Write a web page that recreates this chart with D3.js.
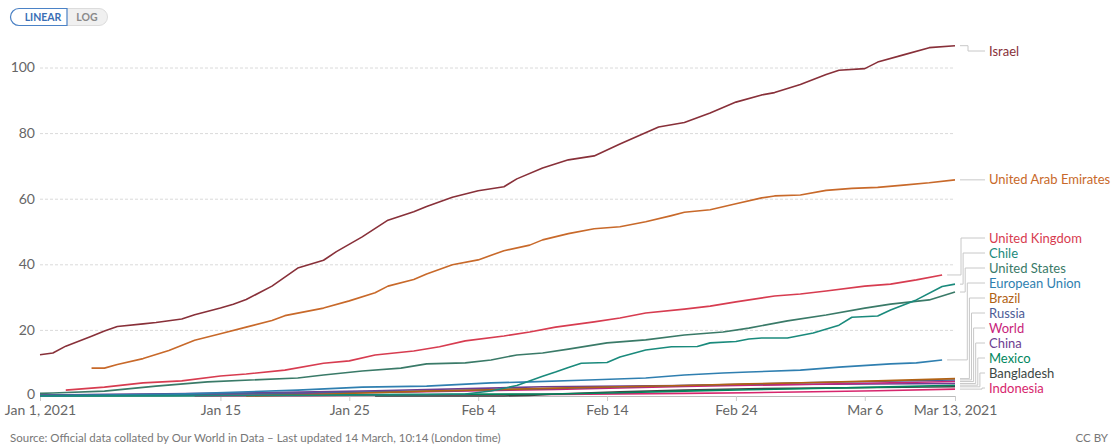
<!DOCTYPE html>
<html>
<head>
<meta charset="utf-8">
<script src="https://cdn.jsdelivr.net/npm/d3@7"></script>
<style>
  body { margin: 0; background: #fff; }
  svg { font-family: Lato, "Open Sans", sans-serif; display: block; }
</style>
</head>
<body>
<div id="chart"></div>
<script>
// data: day offsets from Jan 1, 2021 and doses per 100 people
const israelDays = [0,1,2,4,5,6,8,9,11,12,14,15,16,18,20,22,23,25,27,29,30,32,34,36,37,39,41,43,45,48,50,52,54,56,57,59,61,62,64,65,67,69,71];
const israelVals = [12.6,13.1,15.2,18.2,19.8,21.2,22,22.4,23.5,24.8,26.8,28,29.4,33.5,39,41.4,44,48.5,53.6,56.2,57.8,60.6,62.6,63.8,66.2,69.5,72,73.2,76.8,82,83.4,86.3,89.6,91.8,92.5,95,98,99.3,99.8,101.8,104,106.2,106.8];

const uaeDays = [4,5,6,8,10,12,14,16,18,19,22,24,26,27,29,30,32,34,36,38,39,41,43,45,47,49,50,52,54,56,57,59,61,63,65,67,69,71];
const uaeVals = [8.5,8.5,9.6,11.4,13.9,17,19,21,23,24.5,26.8,29,31.5,33.5,35.5,37.2,40,41.5,44.3,46,47.6,49.5,51,51.6,53.1,55,56,56.8,58.6,60.4,61,61.3,62.7,63.3,63.6,64.3,65,65.9];

const ukDays = [2,5,8,11,14,16,19,22,24,26,29,31,33,36,38,40,43,45,47,50,52,54,57,59,61,64,66,68,70];
const ukVals = [1.8,2.7,4,4.6,6.1,6.7,7.9,10,10.7,12.5,13.7,15,16.8,18.3,19.5,21,22.6,23.8,25.3,26.5,27.4,28.7,30.5,31.1,32,33.5,34.1,35.4,36.9];

const chileDays = [0,10,20,30,33,35,37,39,40,41,42,44,45,47,49,51,52,54,55,56,58,60,62,63,65,66,68,70,71];
const chileVals = [0.05,0.1,0.2,0.4,0.6,1.5,3.2,6,7.3,8.7,10,10.2,11.9,14,15,15.1,16.2,16.6,17.4,17.7,17.7,19.2,21.6,24,24.4,26.2,29.3,33.4,34.1];

const usDays = [0,1,5,9,13,20,22,25,28,30,33,35,37,39,41,44,45,47,50,53,55,58,61,64,66,69,71];
const usVals = [0.8,0.9,1.5,3,4.3,5.5,6.4,7.6,8.5,9.8,10.1,11,12.5,13.1,14.3,16.2,16.5,17.1,18.6,19.5,20.7,22.9,24.7,26.8,28,29.3,31.7];

const euDays = [0,10,20,25,30,35,38,42,47,50,53,55,59,62,66,68,70];
const euVals = [0.05,0.5,1.8,2.7,3,4,4.3,4.8,5.5,6.4,7,7.3,7.9,8.8,9.8,10.1,11];

const brazilDays = [16,20,25,30,35,40,45,50,55,60,65,71];
const brazilVals = [0,0.3,0.9,1.5,1.9,2.4,2.8,3.2,3.7,4.1,4.6,5.3];

const russiaDays = [0,10,20,30,40,50,60,71];
const russiaVals = [0.3,0.5,0.9,1.5,2.3,3.2,4.1,4.9];

const worldDays = [0,10,20,30,40,50,60,71];
const worldVals = [0.15,0.4,0.8,1.3,2,2.9,3.6,4.4];

const chinaDays = [0,8,19,26,39,58,71];
const chinaVals = [0.3,0.63,1.1,1.6,2.8,3.5,3.8];

const mexicoDays = [0,10,20,30,40,45,50,55,60,65,71];
const mexicoVals = [0.02,0.1,0.4,0.55,0.6,1,1.5,1.9,2.3,2.7,3.3];

const bangladeshDays = [26,36,38,40,45,50,55,60,65,71];
const bangladeshVals = [0,0.01,0.2,0.6,1.3,1.8,2.2,2.4,2.6,2.8];

const indonesiaDays = [12,20,30,40,50,55,60,65,71];
const indonesiaVals = [0,0.1,0.3,0.5,0.8,1,1.3,1.6,2.1];

const seriesNames = ["Israel","United Arab Emirates","United Kingdom","Chile","United States","European Union","Brazil","Russia","World","China","Mexico","Bangladesh","Indonesia"];
const seriesDays = [israelDays,uaeDays,ukDays,chileDays,usDays,euDays,brazilDays,russiaDays,worldDays,chinaDays,mexicoDays,bangladeshDays,indonesiaDays];
const seriesVals = [israelVals,uaeVals,ukVals,chileVals,usVals,euVals,brazilVals,russiaVals,worldVals,chinaVals,mexicoVals,bangladeshVals,indonesiaVals];

const yTicks = [0,20,40,60,80,100];
const xTickLabels = ["Jan 1, 2021","Jan 15","Jan 25","Feb 4","Feb 14","Feb 24","Mar 6","Mar 13, 2021"];
const xTickDays = [0,14,24,34,44,54,64,71];

const colors = {
  "Israel": "#883039",
  "United Arab Emirates": "#c8692a",
  "United Kingdom": "#d73c50",
  "Chile": "#1a8a7c",
  "United States": "#3a7a68",
  "European Union": "#2f7fb0",
  "Brazil": "#b16214",
  "Russia": "#4c5c96",
  "World": "#c8237a",
  "China": "#6d3e91",
  "Mexico": "#00875e",
  "Bangladesh": "#3d4744",
  "Indonesia": "#d7266d"
};

const width = 1115, height = 446;
const start = new Date(2021, 0, 1);
const toDate = d => d3.timeDay.offset(start, d);

const svg = d3.select("#chart").append("svg")
  .attr("width", width).attr("height", height);

const x = d3.scaleTime()
  .domain([start, toDate(71)])
  .range([40, 955]);

const y = d3.scaleLinear()
  .domain([0, 100])
  .range([396, 68]);

// linear / log toggle
const toggle = svg.append("g").attr("transform", "translate(10,8)");
toggle.append("rect")
  .attr("x", 0.5).attr("y", 0.5).attr("width", 97).attr("height", 17)
  .attr("rx", 8.5).attr("fill", "#f0f0f0").attr("stroke", "#dcdcdc");
toggle.append("path")
  .attr("d", "M57,0.5 H9 A8.5,8.5 0 0 0 9,17.5 H57 Z")
  .attr("fill", "#fff").attr("stroke", "#4b82c6").attr("stroke-width", 1.2);
toggle.append("text").attr("x", 33).attr("y", 13)
  .attr("text-anchor", "middle").attr("font-size", 10.5).attr("font-weight", 700)
  .attr("fill", "#3a6fb5").text("LINEAR");
toggle.append("text").attr("x", 77).attr("y", 13)
  .attr("text-anchor", "middle").attr("font-size", 10.5).attr("font-weight", 700)
  .attr("fill", "#8a8a8a").text("LOG");

// y grid + labels
const yAxis = svg.append("g").attr("class", "y-axis");
yAxis.selectAll("line")
  .data(yTicks.filter(d => d > 0))
  .enter().append("line")
  .attr("x1", 40).attr("x2", 955)
  .attr("y1", d => y(d)).attr("y2", d => y(d))
  .attr("stroke", "#dadada")
  .attr("stroke-dasharray", "3,2");
yAxis.selectAll("text")
  .data(yTicks)
  .enter().append("text")
  .attr("x", 35).attr("y", d => y(d) - (d === 0 ? 1 : 0))
  .attr("dy", "0.32em")
  .attr("text-anchor", "end")
  .attr("font-size", 14)
  .attr("fill", "#666")
  .text(d => d);

// x axis
const xAxis = g => g
  .attr("transform", `translate(0,${y(0)})`)
  .call(d3.axisBottom(x).tickValues(xTickDays.map(toDate)).tickSize(5)
    .tickFormat((d, i) => xTickLabels[i]).tickSizeOuter(0))
  .call(g => g.select(".domain").attr("stroke", "#bbb"))
  .call(g => g.selectAll(".tick line").attr("stroke", "#ccc"))
  .call(g => g.selectAll(".tick text")
    .attr("font-family", "Lato, sans-serif")
    .attr("font-size", 14).attr("fill", "#666").attr("dy", "0.95em").attr("y", 6));
svg.append("g").call(xAxis);

// lines
const line = d3.line()
  .x(d => x(toDate(d[0])))
  .y(d => y(d[1]));

const series = seriesNames.map((name, i) => ({
  name: name,
  color: colors[name],
  points: seriesDays[i].map((d, j) => [d, seriesVals[i][j]])
}));

svg.append("g").selectAll("path")
  .data(series.slice().reverse())
  .enter().append("path")
  .attr("fill", "none")
  .attr("stroke", d => d.color)
  .attr("stroke-width", 1.6)
  .attr("stroke-linejoin", "round")
  .attr("d", d => line(d.points));

// end labels
const labels = series.map(s => {
  const last = s.points[s.points.length - 1];
  return { name: s.name, color: s.color, ex: x(toDate(last[0])), ey: y(last[1]) };
}).sort((a, b) => a.ey - b.ey);

const gap = 15, minY = 51, maxY = 388;
labels.forEach(l => l.ly = Math.max(minY, Math.min(maxY, l.ey)));
for (let i = 1; i < labels.length; i++)
  labels[i].ly = Math.max(labels[i].ly, labels[i - 1].ly + gap);
labels[labels.length - 1].ly = Math.min(labels[labels.length - 1].ly, maxY);
for (let i = labels.length - 2; i >= 0; i--)
  labels[i].ly = Math.min(labels[i].ly, labels[i + 1].ly - gap);

const lg = svg.append("g");
labels.forEach((l, k) => {
  const sx = l.name === "Israel" ? 968 : 961 + (k - 2) * 2.1;
  const pts = Math.abs(l.ly - l.ey) < 0.5
    ? [[l.ex + 5, l.ey], [985, l.ey]]
    : [[l.ex + 5, l.ey], [sx, l.ey], [sx, l.ly], [985, l.ly]];
  lg.append("path")
    .attr("d", d3.line()(pts))
    .attr("fill", "none")
    .attr("stroke", "#c8c8c8")
    .attr("stroke-width", 1);
  lg.append("text")
    .attr("x", 989).attr("y", l.ly)
    .attr("dy", "0.35em")
    .attr("font-size", 13)
    .attr("fill", l.color)
    .text(l.name);
});

// footer
svg.append("text")
  .attr("x", 10).attr("y", 442)
  .attr("font-size", 11.5).attr("fill", "#777")
  .text("Source: Official data collated by Our World in Data – Last updated 14 March, 10:14 (London time)");
svg.append("text")
  .attr("x", 1108).attr("y", 442)
  .attr("text-anchor", "end")
  .attr("font-size", 11.5).attr("fill", "#777")
  .text("CC BY");
</script>
</body>
</html>
